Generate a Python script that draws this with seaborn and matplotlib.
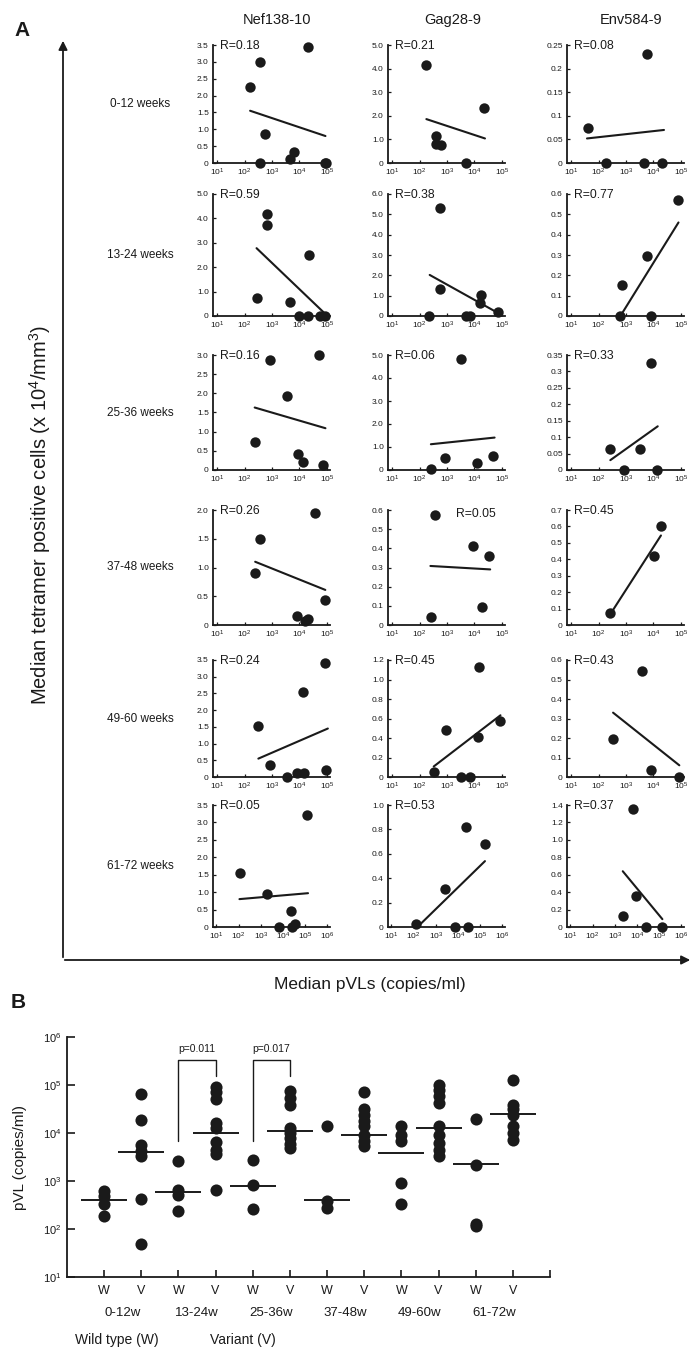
import numpy as np
import pandas as pd
import matplotlib
matplotlib.use("Agg")
import matplotlib.pyplot as plt
import matplotlib.transforms as mtransforms
from matplotlib.patches import FancyArrowPatch
from matplotlib.ticker import NullLocator
import seaborn as sns

# ---------------- DATA ----------------
weeks = ["0-12 weeks", "13-24 weeks", "25-36 weeks", "37-48 weeks", "49-60 weeks", "61-72 weeks"]
epitopes = ["Nef138-10", "Gag28-9", "Env584-9"]

# Panel A: median pVL (copies/ml) and median tetramer+ cells (x10^4/mm^3), per time window
nef_pvl = [
    [160, 380, 21000, 570, 380, 6200, 4700, 87000, 95000],
    [660, 660, 275, 4500, 10000, 20000, 22000, 58000, 87000],
    [850, 52000, 3500, 250, 9000, 14000, 75000],
    [355, 245, 38000, 8500, 16000, 20000, 89000],
    [320, 870, 3700, 8100, 15000, 13500, 87000, 95000],
    [115, 2000, 117000, 6600, 22000, 26000, 36000],
]
nef_tet = [
    [2.26, 3.0, 3.43, 0.85, 0, 0.33, 0.13, 0, 0],
    [4.16, 3.75, 0.75, 0.57, 0, 0, 2.5, 0, 0],
    [2.87, 3.0, 1.93, 0.74, 0.41, 0.22, 0.13],
    [1.49, 0.9, 1.94, 0.16, 0.07, 0.1, 0.43],
    [1.53, 0.37, 0, 0.13, 0.13, 2.54, 3.41, 0.2],
    [1.55, 0.95, 3.2, 0, 0.45, 0, 0.08],
]
gag_pvl = [
    [178, 23000, 400, 400, 620, 5000],
    [540, 540, 215, 4800, 7200, 17500, 16500, 74000],
    [3300, 820, 270, 12500, 50000],
    [370, 255, 8900, 35000, 19000],
    [340, 930, 3400, 7000, 14000, 14500, 87000],
    [135, 2500, 7600, 29000, 22000, 160000],
]
gag_tet = [
    [4.14, 2.33, 1.14, 0.79, 0.76, 0],
    [5.3, 1.33, 0, 0, 0, 1.03, 0.64, 0.2],
    [4.81, 0.5, 0.03, 0.32, 0.61],
    [0.574, 0.043, 0.41, 0.36, 0.092],
    [0.054, 0.48, 0, 0, 0.41, 1.13, 0.57],
    [0.027, 0.31, 0, 0, 0.82, 0.68],
]
env_pvl = [
    [40, 5700, 180, 4400, 21000],
    [740, 5900, 83000, 630, 8000],
    [270, 3300, 8500, 820, 14000],
    [270, 11000, 19000],
    [340, 4000, 7900, 89000],
    [2300, 6800, 9300, 24500, 140000],
]
env_tet = [
    [0.075, 0.23, 0, 0, 0],
    [0.153, 0.297, 0.57, 0, 0],
    [0.063, 0.063, 0.325, 0, 0],
    [0.075, 0.417, 0.6],
    [0.197, 0.545, 0.037, 0],
    [0.13, 1.35, 0.36, 0, 0],
]
# regression line end points: (pVL start, pVL end, cells start, cells end)
nef_fit = [(160, 90000, 1.55, 0.80), (275, 100000, 2.78, 0.03), (235, 90000, 1.63, 1.09),
           (245, 89000, 1.10, 0.61), (320, 110000, 0.55, 1.45), (110, 135000, 0.80, 0.97)]
gag_fit = [(178, 24500, 1.86, 1.04), (235, 80000, 2.02, 0.12), (260, 55000, 1.12, 1.41),
           (250, 38000, 0.308, 0.29), (330, 90000, 0.108, 0.633), (150, 165000, 0.0, 0.54)]
env_fit = [(38, 24500, 0.052, 0.070), (630, 83000, 0.0, 0.46), (270, 14500, 0.03, 0.133),
           (270, 19000, 0.066, 0.545), (340, 89000, 0.33, 0.06), (2300, 140000, 0.64, 0.09)]
nef_r = [0.18, 0.59, 0.16, 0.26, 0.24, 0.05]
gag_r = [0.21, 0.38, 0.06, 0.05, 0.45, 0.53]
env_r = [0.08, 0.77, 0.33, 0.45, 0.43, 0.37]
nef_ymax = [3.5, 5.0, 3.0, 2.0, 3.5, 3.5]
nef_ystep = [0.5, 1.0, 0.5, 0.5, 0.5, 0.5]
gag_ymax = [5.0, 6.0, 5.0, 0.6, 1.2, 1.0]
gag_ystep = [1.0, 1.0, 1.0, 0.1, 0.2, 0.2]
env_ymax = [0.25, 0.6, 0.35, 0.7, 0.6, 1.4]
env_ystep = [0.05, 0.1, 0.05, 0.1, 0.1, 0.2]
x_decades = [5, 5, 5, 5, 5, 6]

# Panel B: pVL of wild type (W) and variant (V) per time window
groups = ["0-12w", "13-24w", "25-36w", "37-48w", "49-60w", "61-72w"]
pvl_wild = [
    [620, 480, 330, 190],
    [2600, 650, 520, 240],
    [2800, 810, 265],
    [14000, 390, 280],
    [13700, 9300, 6700, 920, 330],
    [19500, 2200, 130, 115],
]
pvl_var = [
    [65000, 18500, 5700, 4200, 3300, 430, 49],
    [90000, 70000, 52000, 16000, 13000, 6500, 4500, 3600, 650],
    [74000, 54000, 39000, 12600, 10000, 7900, 6000, 4900],
    [70000, 31000, 24000, 17500, 13700, 9300, 6700, 5300],
    [100000, 80000, 60000, 42000, 13700, 9300, 6200, 4500, 3300],
    [130000, 39000, 31000, 24000, 13700, 10000, 7300],
]
med_wild = [400, 590, 800, 400, 3800, 2300]
med_var = [4000, 10000, 10800, 9300, 13000, 25000]
p_labels = ["p=0.011", "p=0.017"]
p_groups = [1, 2]
p_top = [330000, 330000]
p_left_end = [6800, 6800]
p_right_end = [155000, 155000]

# ---------------- STYLE ----------------
sns.set_style("ticks")
plt.rcParams['font.family'] = ['Liberation Sans', 'DejaVu Sans']
plt.rcParams['mathtext.fontset'] = 'custom'
plt.rcParams['mathtext.rm'] = 'Liberation Sans'
plt.rcParams['mathtext.it'] = 'Liberation Sans:italic'
plt.rcParams['mathtext.bf'] = 'Liberation Sans:bold'
INK = '#1a1a1a'

W, H = 695, 1350
fig = plt.figure(figsize=(W / 100, H / 100), dpi=100)
fig.patch.set_facecolor('white')


def fx(px):
    return px / W


def fy(py):
    return 1 - py / H


col_left = [213, 388, 567]
col_w = 117
row_top = [45, 194, 355, 510, 660, 805]
row_bot = [163, 316, 470, 625, 777, 927]

pvl_sets = [nef_pvl, gag_pvl, env_pvl]
tet_sets = [nef_tet, gag_tet, env_tet]
fit_sets = [nef_fit, gag_fit, env_fit]
r_sets = [nef_r, gag_r, env_r]
ymax_sets = [nef_ymax, gag_ymax, env_ymax]
ystep_sets = [nef_ystep, gag_ystep, env_ystep]

for r in range(6):
    for c in range(3):
        ax = fig.add_axes([fx(col_left[c]), fy(row_bot[r]), col_w / W,
                           (row_bot[r] - row_top[r]) / H])
        ax.set_facecolor('white')
        xs = pvl_sets[c][r]
        ys = tet_sets[c][r]
        sns.scatterplot(x=xs, y=ys, ax=ax, color=INK, s=56, linewidth=0,
                        clip_on=False, zorder=3, legend=False)
        x0, x1, y0, y1 = fit_sets[c][r]
        sns.lineplot(x=[x0, x1], y=[y0, y1], ax=ax, color=INK, lw=1.5,
                     legend=False, estimator=None)
        ax.set_xscale('log')
        nd = x_decades[r]
        ax.set_xlim(10 ** 0.85, 10 ** (nd + 0.12))
        ax.set_xticks([10 ** k for k in range(1, nd + 1)])
        ax.set_xticklabels([f'$10^{{{k}}}$' for k in range(1, nd + 1)])
        ax.xaxis.set_minor_locator(NullLocator())
        ymax = ymax_sets[c][r]
        step = ystep_sets[c][r]
        ax.set_ylim(0, ymax)
        yt = np.arange(0, ymax + step / 2, step)
        fmt = '%g' if step < 0.1 else '%.1f'
        ax.set_yticks(yt)
        ax.set_yticklabels(['0' if abs(v) < 1e-9 else fmt % v for v in yt])
        ax.tick_params(direction='in', length=2.5, width=0.9, labelsize=6,
                       pad=3, colors=INK)
        sns.despine(ax=ax)
        for sp in ['left', 'bottom']:
            ax.spines[sp].set_linewidth(1.3)
            ax.spines[sp].set_color(INK)
        ax.set_xlabel('')
        ax.set_ylabel('')
        if c == 1 and r == 3:
            ax.text(0.58, 1.02, f'R={r_sets[c][r]:.2f}', transform=ax.transAxes,
                    ha='left', va='top', fontsize=8.8, color=INK)
        else:
            ax.text(0.06, 1.04, f'R={r_sets[c][r]:.2f}', transform=ax.transAxes,
                    ha='left', va='top', fontsize=8.8, color=INK)

# column titles and row labels
for c, name in enumerate(epitopes):
    fig.text(fx(col_left[c] + col_w / 2 + 6), fy(20), name, ha='center', va='center',
             fontsize=10.5, color=INK)
for r, wk in enumerate(weeks):
    fig.text(fx(140), fy((row_top[r] + row_bot[r]) / 2), wk, ha='center', va='center',
             fontsize=8.5, color=INK)

fig.text(fx(22), fy(30), 'A', ha='center', va='center', fontsize=15, fontweight='bold', color=INK)
fig.text(fx(18), fy(1002), 'B', ha='center', va='center', fontsize=15, fontweight='bold', color=INK)

# big axis arrows of panel A
fig.add_artist(FancyArrowPatch((fx(63), fy(960)), (fx(63), fy(38)), transform=fig.transFigure,
                               arrowstyle='-|>', mutation_scale=13, lw=1.3, color=INK))
fig.add_artist(FancyArrowPatch((fx(62), fy(960)), (fx(693), fy(960)), transform=fig.transFigure,
                               arrowstyle='-|>', mutation_scale=13, lw=1.3, color=INK))
fig.text(fx(40), fy(515), 'Median tetramer positive cells (x 10$^{4}$/mm$^{3}$)', rotation=90,
         ha='center', va='center', fontsize=14.5, color=INK)
fig.text(fx(370), fy(985), 'Median pVLs (copies/ml)', ha='center', va='center',
         fontsize=12.5, color=INK)

# ---------------- PANEL B ----------------
axb = fig.add_axes([fx(67), fy(1277), (550 - 67) / W, (1277 - 1037) / H])
axb.set_facecolor('white')
rows = []
for k in range(6):
    for v in pvl_wild[k]:
        rows.append({'pos': 2 * k + 1, 'pvl': v})
    for v in pvl_var[k]:
        rows.append({'pos': 2 * k + 2, 'pvl': v})
dfb = pd.DataFrame(rows)
sns.scatterplot(data=dfb, x='pos', y='pvl', ax=axb, color=INK, s=76, linewidth=0,
                legend=False, zorder=3, clip_on=False)
axb.set_yscale('log')
axb.set_ylim(10, 1e6)
axb.set_xlim(0, 13)
pos_w = np.arange(6) * 2 + 1
pos_v = np.arange(6) * 2 + 2
axb.hlines(med_wild, pos_w - 0.62, pos_w + 0.62, color=INK, lw=1.4, zorder=4)
axb.hlines(med_var, pos_v - 0.62, pos_v + 0.62, color=INK, lw=1.4, zorder=4)
for lab, g, top, le, re in zip(p_labels, p_groups, p_top, p_left_end, p_right_end):
    xw, xv = 2 * g + 1, 2 * g + 2
    axb.plot([xw, xw, xv, xv], [le, top, top, re], color=INK, lw=1.0, clip_on=False)
    axb.text((xw + xv) / 2, top * 1.35, lab, ha='center', va='bottom', fontsize=7.5, color=INK)
axb.set_yticks([10 ** k for k in range(1, 7)])
axb.set_yticklabels([f'$10^{{{k}}}$' for k in range(1, 7)])
axb.yaxis.set_minor_locator(NullLocator())
axb.set_xticks(range(1, 14))
axb.set_xticklabels(['W', 'V'] * 6 + [''])
axb.tick_params(axis='y', direction='in', length=6, width=1.2, labelsize=8, pad=4, colors=INK)
axb.tick_params(axis='x', direction='in', length=5, width=1.2, labelsize=9, pad=6, colors=INK)
sns.despine(ax=axb)
for sp in ['left', 'bottom']:
    axb.spines[sp].set_linewidth(1.3)
    axb.spines[sp].set_color(INK)
axb.set_xlabel('')
axb.set_ylabel('')
trans = mtransforms.blended_transform_factory(axb.transData, axb.transAxes)
for k, g in enumerate(groups):
    axb.text(2 * k + 1.5, -0.15, g, transform=trans, ha='center', va='center',
             fontsize=9.5, color=INK)
fig.text(fx(20), fy(1157), 'pVL (copies/ml)', rotation=90, ha='center', va='center',
         fontsize=11, color=INK)
fig.text(fx(75), fy(1340), 'Wild type (W)', ha='left', va='center', fontsize=10, color=INK)
fig.text(fx(210), fy(1340), 'Variant (V)', ha='left', va='center', fontsize=10, color=INK)

fig.savefig('out.png', dpi=100, facecolor='white')
